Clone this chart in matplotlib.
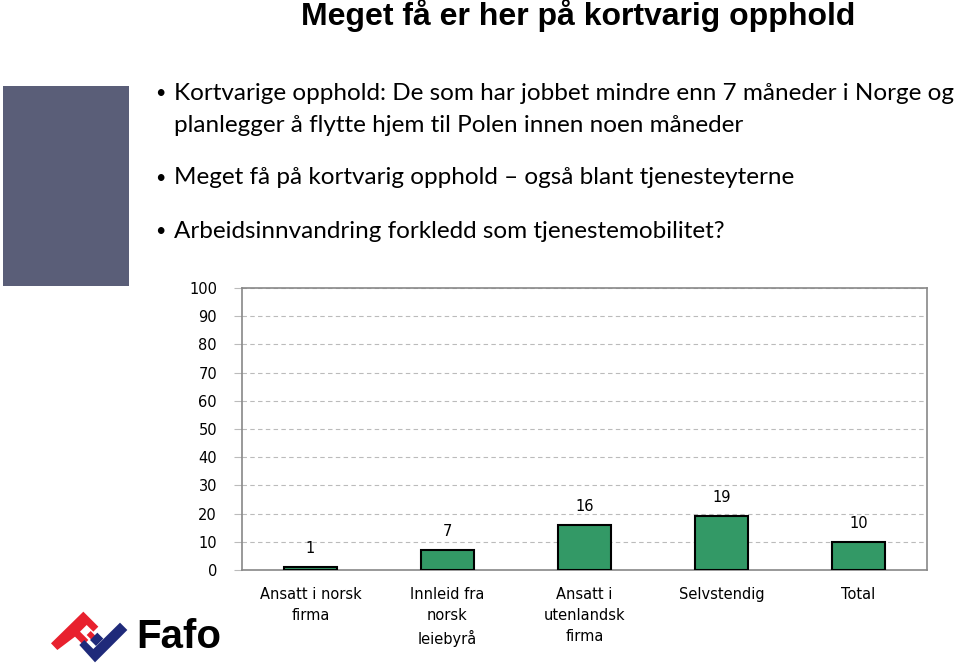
"""Slide: Meget få er her på kortvarig opphold (bar chart + bullets)."""
import matplotlib
matplotlib.use("Agg")
import matplotlib.pyplot as plt
from matplotlib.patches import Rectangle, Polygon

categories = ["Ansatt i norsk\nfirma", "Innleid fra\nnorsk\nleiebyrå",
              "Ansatt i\nutenlandsk\nfirma", "Selvstendig", "Total"]
values = [1, 7, 16, 19, 10]
yticks = list(range(0, 101, 10))

title = "Meget få er her på kortvarig opphold"
bullets = [
    (93, True, "Kortvarige opphold: De som har jobbet mindre enn 7 måneder i Norge og"),
    (125, False, "planlegger å flytte hjem til Polen innen noen måneder"),
    (178, True, "Meget få på kortvarig opphold – også blant tjenesteyterne"),
    (231, True, "Arbeidsinnvandring forkledd som tjenestemobilitet?"),
]

W, H = 960, 664
fig = plt.figure(figsize=(W / 100, H / 100), dpi=100)
fig.patch.set_facecolor("white")

# overlay in pixel coordinates for slide decorations
deco = fig.add_axes([0, 0, 1, 1])
deco.set_xlim(0, W)
deco.set_ylim(H, 0)
deco.axis("off")

deco.text(578, 16, title, ha="center", va="center", fontsize=23,
          fontweight="bold", family="Liberation Sans")

deco.add_patch(Rectangle((3, 86), 126, 200, facecolor="#5a5e78", edgecolor="none"))

for y, has_bullet, txt in bullets:
    if has_bullet:
        deco.text(155, y, "•", ha="left", va="center", fontsize=13, family="Lato")
    deco.text(174, y, txt, ha="left", va="center", fontsize=17.5, family="Lato")


# Fafo logo
def lp(pts):
    return [(40 + x / 3, 600 + y / 3) for x, y in pts]


red = lp([(33, 130), (130, 35), (175, 80), (160, 95), (140, 75), (120, 95),
          (145, 120), (130, 135), (105, 110), (52, 150)])
red_arm = lp([(140, 105), (152, 93), (170, 111), (158, 123)])
blue = lp([(118, 135), (133, 120), (160, 147), (240, 68), (262, 90), (165, 187)])
blue_stem = lp([(150, 120), (172, 98), (190, 116), (168, 138)])
for pts, c in [(red, "#e8212e"), (red_arm, "#e8212e"),
               (blue, "#1f2a7a"), (blue_stem, "#1f2a7a")]:
    deco.add_patch(Polygon(pts, closed=True, facecolor=c, edgecolor="none"))
deco.text(136, 637, "Fafo", ha="left", va="center", fontsize=29,
          fontweight="bold", family="Liberation Sans")

# chart
ax = fig.add_axes([242 / W, 1 - 570 / H, 685 / W, 282 / H])
x = range(len(categories))
ax.bar(x, values, width=0.39, color="#339966", edgecolor="black",
       linewidth=1.5, zorder=3)
for xi, v in zip(x, values):
    ax.annotate(f"{v}", (xi, v), xytext=(0, 8), textcoords="offset points",
                ha="center", va="bottom", fontsize=10.5)

ax.set_xlim(-0.5, len(categories) - 0.5)
ax.set_ylim(0, 100)
ax.set_yticks(yticks)
ax.set_yticklabels([str(t) for t in yticks], fontsize=10.5)
ax.set_xticks(list(x))
ax.set_xticklabels(categories, fontsize=10.5, linespacing=1.5, va="top")
ax.tick_params(axis="x", length=0, pad=12)
ax.tick_params(axis="y", length=6, width=0.8, color="#bbbbbb", pad=12)
ax.yaxis.grid(True, linestyle=(0, (4, 3)), color="#bbbbbb", linewidth=0.8, zorder=0)
for s in ax.spines.values():
    s.set_color("#888888")
    s.set_linewidth(1.2)

fig.savefig("out.png", dpi=100)
